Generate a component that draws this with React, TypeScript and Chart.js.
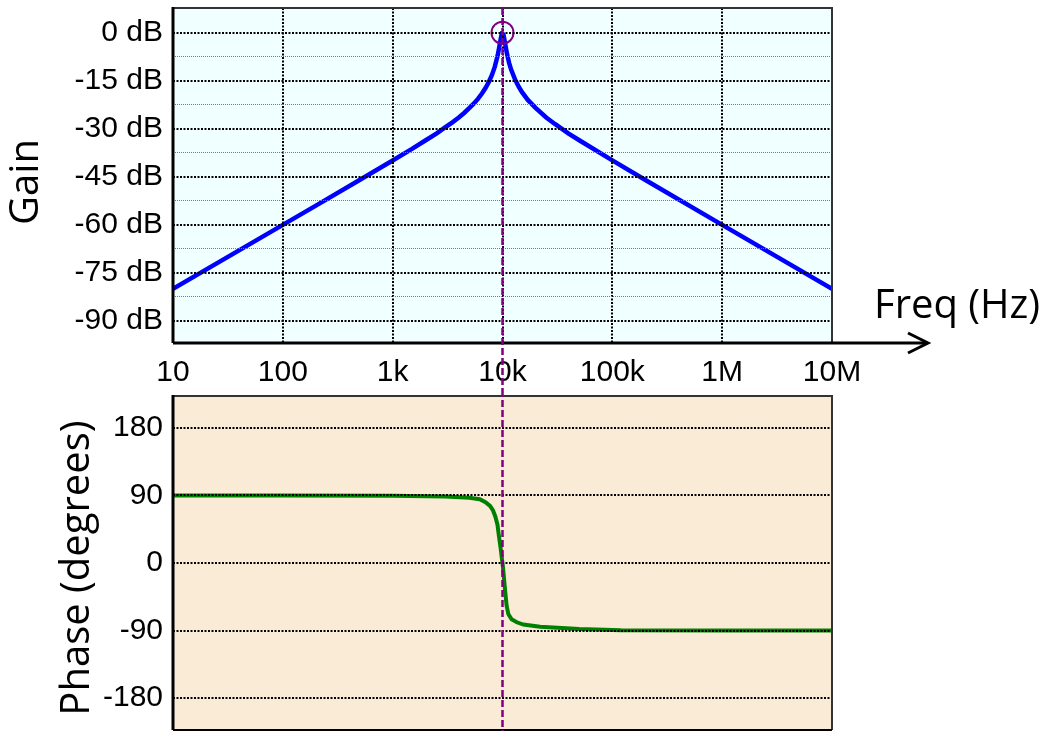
import React, { useEffect, useRef } from 'react';
import { Chart, registerables } from 'chart.js';

Chart.register(...registerables);

// ---- data ----
const xTickValues = [10, 100, 1000, 10000, 100000, 1000000, 10000000];
const xTickLabels = ['10', '100', '1k', '10k', '100k', '1M', '10M'];
const gainMajorTicks = [0, -15, -30, -45, -60, -75, -90];
const gainMinorTicks = [-7.5, -22.5, -37.5, -52.5, -67.5, -82.5];
const phaseTicks = [180, 90, 0, -90, -180];

const gainFreqs = [10, 100, 200, 500, 1000, 1500, 2000, 2500, 3000, 3500, 4000, 4500, 5000, 5500, 6000, 6500, 7000, 7500, 8000, 8500, 9000, 9300, 9500, 9600, 9800, 9900, 10000, 10100, 10200, 10500, 11000, 11500, 12000, 13000, 14000, 15000, 17000, 20000, 25000, 30000, 40000, 50000, 100000, 200000, 1000000, 10000000];
const gainDb = [-80, -60, -54, -46, -39.9, -36.3, -33.6, -31.5, -29.6, -28, -26.5, -25, -23.5, -22.1, -20.6, -19, -17.3, -15.4, -13.3, -10.7, -7.4, -4.9, -3.1, -2.2, -0.7, -0.2, 0, -0.2, -0.6, -2.9, -6.7, -9.5, -11.6, -14.6, -16.8, -18.5, -21, -23.5, -26.5, -28.5, -31.5, -33.6, -39.9, -46, -60, -80];

const phaseFreqs = [10, 100, 1000, 3000, 5000, 6200, 7000, 7700, 8200, 8600, 9000, 9200, 9400, 9650, 9850, 10000, 10150, 10400, 10650, 10900, 11300, 12100, 13500, 15500, 22000, 50000, 120000, 1000000, 10000000];
const phaseDeg = [90, 90, 89.5, 88.5, 87, 85, 81, 76, 70, 62, 51, 40, 30, 18, 7, 0, -9, -26, -42, -57, -68, -75, -79, -82, -85, -88, -89.5, -90, -90];

const markerFreqs = [10000];
const markerDb = [0];
const cursorFreq = 10000;

const TICK_FONT = { family: '"Liberation Sans", Arial, sans-serif', size: 30 };
const TITLE_FONT = '40px "Open Sans", sans-serif';
const PURPLE = '#800080';

const isMajorGain = (v: number) => Math.abs(v % 15) < 1e-6;

function zeroPad(s: any) {
  s.paddingTop = 0;
  s.paddingBottom = 0;
  s.paddingLeft = 0;
  s.paddingRight = 0;
}

function drawCursor(chart: any, fromY: number, toY: number) {
  const ctx = chart.ctx;
  const x = chart.scales.x.getPixelForValue(cursorFreq);
  ctx.save();
  ctx.strokeStyle = PURPLE;
  ctx.lineWidth = 2.5;
  ctx.setLineDash([7, 3]);
  ctx.beginPath();
  ctx.moveTo(x, fromY);
  ctx.lineTo(x, toY);
  ctx.stroke();
  ctx.restore();
}

function drawFrame(chart: any, bottomWidth: number) {
  const ctx = chart.ctx;
  const a = chart.chartArea;
  ctx.save();
  ctx.setLineDash([]);
  ctx.strokeStyle = '#333';
  ctx.lineWidth = 2;
  ctx.beginPath();
  ctx.moveTo(a.left, a.top);
  ctx.lineTo(a.right, a.top);
  ctx.lineTo(a.right, a.bottom);
  ctx.stroke();
  ctx.strokeStyle = '#000';
  ctx.lineWidth = 3;
  ctx.beginPath();
  ctx.moveTo(a.left, a.top - 1);
  ctx.lineTo(a.left, a.bottom);
  ctx.stroke();
  ctx.lineWidth = bottomWidth;
  ctx.beginPath();
  ctx.moveTo(a.left, a.bottom);
  ctx.lineTo(a.right, a.bottom);
  ctx.stroke();
  ctx.restore();
}

function drawVerticalTitle(ctx: any, text: string, baselineX: number, centerY: number) {
  ctx.save();
  ctx.translate(baselineX, centerY);
  ctx.rotate(-Math.PI / 2);
  ctx.font = TITLE_FONT;
  ctx.fillStyle = '#000';
  ctx.textAlign = 'center';
  ctx.textBaseline = 'alphabetic';
  ctx.fillText(text, 0, 0);
  ctx.restore();
}

const gainDecor = {
  id: 'gainDecor',
  beforeDraw(chart: any) {
    const { ctx, chartArea: a } = chart;
    ctx.save();
    ctx.fillStyle = '#F0FFFF';
    ctx.fillRect(a.left, a.top, a.right - a.left, a.bottom - a.top);
    ctx.restore();
  },
  afterDraw(chart: any) {
    const { ctx, chartArea: a } = chart;
    drawFrame(chart, 3);
    // axis arrow
    ctx.save();
    ctx.strokeStyle = '#000';
    ctx.lineWidth = 3;
    ctx.beginPath();
    ctx.moveTo(a.right, a.bottom);
    ctx.lineTo(927, a.bottom);
    ctx.stroke();
    ctx.beginPath();
    ctx.moveTo(908, a.bottom - 10);
    ctx.lineTo(928, a.bottom);
    ctx.lineTo(908, a.bottom + 10);
    ctx.stroke();
    ctx.font = TITLE_FONT;
    ctx.fillStyle = '#000';
    ctx.textAlign = 'left';
    ctx.textBaseline = 'alphabetic';
    ctx.fillText('Freq (Hz)', 874, 318);
    ctx.restore();
    drawVerticalTitle(ctx, 'Gain', 38, 182);
    drawCursor(chart, a.top, chart.height);
  },
};

const phaseDecor = {
  id: 'phaseDecor',
  beforeDraw(chart: any) {
    const { ctx, chartArea: a } = chart;
    ctx.save();
    ctx.fillStyle = '#FAEBD7';
    ctx.fillRect(a.left, a.top, a.right - a.left, a.bottom - a.top);
    ctx.restore();
  },
  afterDraw(chart: any) {
    drawFrame(chart, 2);
    drawVerticalTitle(chart.ctx, 'Phase (degrees)', 89, 178);
    drawCursor(chart, 0, chart.height);
  },
};

export default function App() {
  const topRef = useRef<HTMLCanvasElement>(null);
  const botRef = useRef<HTMLCanvasElement>(null);

  useEffect(() => {
    const gainPoints = gainFreqs.map((f, i) => ({ x: f, y: gainDb[i] }));
    const phasePoints = phaseFreqs.map((f, i) => ({ x: f, y: phaseDeg[i] }));
    const markerPoints = markerFreqs.map((f, i) => ({ x: f, y: markerDb[i] }));

    const top = new Chart(topRef.current as HTMLCanvasElement, {
      type: 'line',
      data: {
        datasets: [
          {
            data: markerPoints,
            showLine: false,
            pointRadius: 11,
            pointStyle: 'circle',
            pointBorderColor: PURPLE,
            pointBackgroundColor: 'rgba(0,0,0,0)',
            pointBorderWidth: 2,
            order: 0,
          } as any,
          {
            data: gainPoints,
            borderColor: '#0000FF',
            borderWidth: 4.5,
            pointRadius: 0,
            fill: false,
            tension: 0,
            order: 1,
          },
        ],
      },
      options: {
        responsive: false,
        animation: false,
        events: [],
        layout: { autoPadding: false, padding: { top: 8, left: 0, right: 219, bottom: 0 } },
        plugins: { legend: { display: false }, tooltip: { enabled: false } },
        scales: {
          x: {
            type: 'logarithmic',
            min: 10,
            max: 10000000,
            afterBuildTicks: (s: any) => {
              s.ticks = xTickValues.map((v) => ({ value: v }));
            },
            afterFit: (s: any) => {
              s.height = 47;
              zeroPad(s);
            },
            ticks: {
              callback: (_v: any, i: number) => xTickLabels[i],
              font: TICK_FONT,
              color: '#000',
              padding: 12,
              maxRotation: 0,
              autoSkip: false,
            },
            grid: { drawTicks: false, color: '#000', lineWidth: 2, z: 1 },
            border: { display: false, dash: [2, 1.5] },
          },
          y: {
            type: 'linear',
            min: -96.9,
            max: 7.7,
            afterBuildTicks: (s: any) => {
              s.ticks = [...gainMajorTicks, ...gainMinorTicks]
                .sort((a, b) => a - b)
                .map((v) => ({ value: v }));
            },
            afterFit: (s: any) => {
              s.width = 173;
              zeroPad(s);
            },
            ticks: {
              callback: (v: any) => (isMajorGain(Number(v)) ? `${v} dB` : ''),
              font: TICK_FONT,
              color: '#000',
              padding: 10,
              autoSkip: false,
            },
            grid: {
              drawTicks: false,
              z: 1,
              color: (c: any) => (c.tick && isMajorGain(c.tick.value) ? '#000' : '#777'),
              lineWidth: (c: any) => (c.tick && isMajorGain(c.tick.value) ? 2 : 1),
            },
            border: {
              display: false,
              dash: (c: any) => (c.tick ? (isMajorGain(c.tick.value) ? [2, 1.5] : [1, 1]) : []),
            } as any,
          },
        },
      },
      plugins: [gainDecor],
    });

    const bot = new Chart(botRef.current as HTMLCanvasElement, {
      type: 'line',
      data: {
        datasets: [
          {
            data: phasePoints,
            borderColor: '#008000',
            borderWidth: 4,
            pointRadius: 0,
            fill: false,
            tension: 0,
          },
        ],
      },
      options: {
        responsive: false,
        animation: false,
        events: [],
        layout: { autoPadding: false, padding: { top: 6, left: 0, right: 219, bottom: 1 } },
        plugins: { legend: { display: false }, tooltip: { enabled: false } },
        scales: {
          x: {
            type: 'logarithmic',
            min: 10,
            max: 10000000,
            display: false,
          },
          y: {
            type: 'linear',
            min: -222.5,
            max: 222.5,
            afterBuildTicks: (s: any) => {
              s.ticks = [...phaseTicks].sort((a, b) => a - b).map((v) => ({ value: v }));
            },
            afterFit: (s: any) => {
              s.width = 173;
              zeroPad(s);
            },
            ticks: {
              callback: (v: any) => `${v}`,
              font: TICK_FONT,
              color: '#000',
              padding: 10,
              autoSkip: false,
            },
            grid: { drawTicks: false, color: '#000', lineWidth: 2, z: 1 },
            border: { display: false, dash: [2, 1.5] },
          },
        },
      },
      plugins: [phaseDecor],
    });

    return () => {
      top.destroy();
      bot.destroy();
    };
  }, []);

  return (
    <div style={{ position: 'absolute', left: 0, top: 0, width: 1051, height: 731, background: '#fff' }}>
      <canvas ref={topRef} width={1051} height={390} style={{ position: 'absolute', left: 0, top: 0 }} />
      <canvas ref={botRef} width={1051} height={341} style={{ position: 'absolute', left: 0, top: 390 }} />
    </div>
  );
}
